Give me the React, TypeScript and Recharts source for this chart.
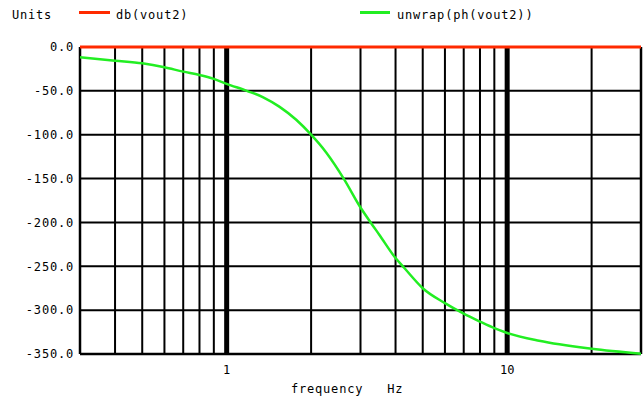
import { LineChart, Line, XAxis, YAxis, ReferenceLine } from "recharts";

// frequency sweep (Hz)
const freqs = [0.3, 0.4, 0.5, 0.6, 0.7, 0.8, 0.9, 1, 1.18, 1.35, 1.54, 1.77, 2, 2.26, 2.62, 3, 3.26, 3.5, 4, 4.3, 5, 6, 7, 8, 9, 10, 13, 20, 30];
// unwrap(ph(vout2)) in degrees
const phase = [-11.7, -15.6, -18.6, -23.1, -28.1, -31.9, -36.4, -42, -50, -57.3, -68, -83, -100, -120, -150.6, -183, -200, -214, -240.6, -252, -275, -292, -304, -313, -320.5, -326, -335, -344, -349.6];
// db(vout2) sits flat on 0 dB
const dbMag = [0, 0, 0, 0, 0, 0, 0, 0, 0, 0, 0, 0, 0, 0, 0, 0, 0, 0, 0, 0, 0, 0, 0, 0, 0, 0, 0, 0, 0];

const yTicks = [0, -50, -100, -150, -200, -250, -300, -350];
const xTicks = [1, 10];
const minorGrid = [0.4, 0.5, 0.6, 0.7, 0.8, 0.9, 2, 3, 4, 5, 6, 7, 8, 9, 20];
const decadeGrid = [1, 10];

const FONT = "'DejaVu Sans Mono', monospace";
const RED = "#ff2a00";
const GREEN = "#22ee22";

const rows = freqs.map((f, i) => ({ f, phase: phase[i], db: dbMag[i] }));

const textStyle: React.CSSProperties = {
  position: "absolute",
  fontFamily: FONT,
  fontSize: 12,
  letterSpacing: 0.8,
  color: "#000",
  lineHeight: "14px",
  whiteSpace: "pre",
};

export default function App() {
  return (
    <div style={{ position: "absolute", left: 0, top: 0, width: 644, height: 400, background: "#fff" }}>
      <div style={{ ...textStyle, left: 12, top: 8 }}>Units</div>
      <div style={{ position: "absolute", left: 79, top: 11, width: 31, height: 3, background: RED }} />
      <div style={{ ...textStyle, left: 116, top: 8 }}>db(vout2)</div>
      <div style={{ position: "absolute", left: 360, top: 11, width: 30, height: 3, background: GREEN }} />
      <div style={{ ...textStyle, left: 397, top: 8 }}>unwrap(ph(vout2))</div>
      <div style={{ ...textStyle, left: 291, top: 382 }}>{"frequency   Hz"}</div>

      <LineChart width={644} height={400} data={rows} margin={{ top: 47, right: 3, left: 0, bottom: 16 }}>
        <XAxis
          dataKey="f"
          type="number"
          scale="log"
          domain={[0.3, 30]}
          ticks={xTicks}
          axisLine={false}
          tickLine={false}
          tickSize={0}
          tickMargin={11}
          height={30}
          tick={{ fontFamily: FONT, fontSize: 12, fill: "#000" }}
        />
        <YAxis
          type="number"
          domain={[-350, 0]}
          ticks={yTicks}
          axisLine={false}
          tickLine={false}
          tickSize={0}
          tickMargin={6}
          width={80}
          tickFormatter={(v: number) => v.toFixed(1)}
          tick={{ fontFamily: FONT, fontSize: 12, fill: "#000", letterSpacing: 0.8 }}
        />
        {yTicks.map((v) => (
          <ReferenceLine key={`h-${v}`} y={v} stroke="#000" strokeWidth={v === -350 ? 2.5 : 2} />
        ))}
        {minorGrid.map((f) => (
          <ReferenceLine key={`m-${f}`} x={f} stroke="#000" strokeWidth={2} />
        ))}
        {decadeGrid.map((f) => (
          <ReferenceLine key={`d-${f}`} x={f} stroke="#000" strokeWidth={5} />
        ))}
        <ReferenceLine x={0.3} stroke="#000" strokeWidth={2.5} />
        <ReferenceLine x={30} stroke="#000" strokeWidth={2.5} />
        <Line
          dataKey="phase"
          type="monotone"
          stroke={GREEN}
          strokeWidth={2.5}
          dot={false}
          isAnimationActive={false}
        />
        <Line
          dataKey="db"
          type="linear"
          stroke={RED}
          strokeWidth={3}
          dot={false}
          isAnimationActive={false}
        />
      </LineChart>
    </div>
  );
}
